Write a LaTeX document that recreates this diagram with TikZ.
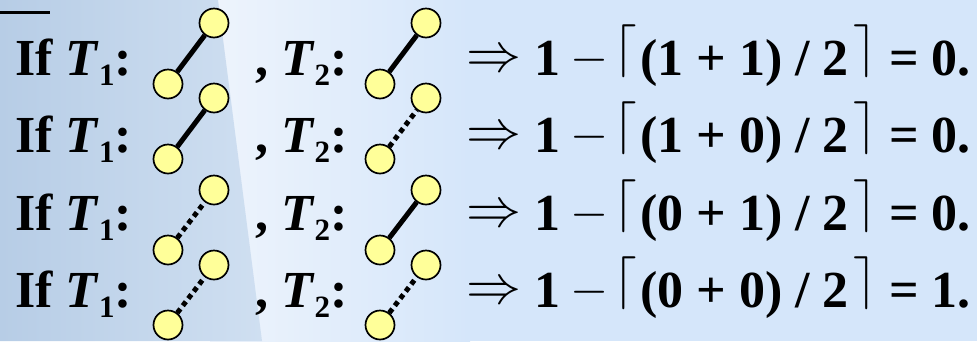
\RequirePackage{fix-cm}
\documentclass[tikz,border=0pt]{standalone}
\usepackage{fontspec}
\setmainfont{Liberation Serif}
\definecolor{bgblue}{HTML}{D5E6FA}
\definecolor{imgdark}{HTML}{B7CDE6}
\definecolor{imglight}{HTML}{CFDFF1}
\definecolor{glow}{HTML}{EEF4FC}
\definecolor{vertex}{HTML}{FFFF99}
\tikzset{
  bigtxt/.style={font=\fontsize{52}{52}\selectfont\bfseries, inner sep=0pt, anchor=base west},
  arrsym/.style={inner sep=0pt, font=\fontsize{55}{55}\selectfont},
  minsym/.style={inner sep=0pt, font=\fontsize{49}{49}\selectfont},
  lcsym/.style={inner sep=0pt, font=\fontsize{53}{53}\selectfont, anchor=north west},
  rcsym/.style={inner sep=0pt, font=\fontsize{53}{53}\selectfont, anchor=north east},
  vtx/.style={circle, draw=black, line width=1.7pt, fill=vertex, minimum size=29pt, inner sep=0pt},
  solidedge/.style={line width=5pt},
  dotedge/.style={line width=5pt, dash pattern=on 5pt off 4pt},
}
\newcommand{\sub}[1]{\raisebox{-10pt}{\fontsize{31}{31}\selectfont #1}}
\newcommand{\lc}{$\lceil$}
\newcommand{\rc}{$\rceil$}
\begin{document}
\begin{tikzpicture}[x=1pt,y=-1pt]
\useasboundingbox (0,0) rectangle (977,341);
\fill[bgblue] (0,0) rectangle (977,341);
\shade[left color=glow, right color=bgblue] (210,0) rectangle (470,341);
\shade[left color=imgdark, right color=imglight] (0,0) -- (218,0) -- (262,341) -- (0,341) -- cycle;
\draw[line width=3pt] (0,12) -- (50,12);
% row 1
\node[bigtxt] (ifA) at (15,75) {If \textit{T}\sub{1}:};
\node[bigtxt] (cmA) at (255,75) {, \textit{T}\sub{2}:};
\node[vtx] (alA) at (168,84) {};
\node[vtx] (auA) at (214,23) {};
\draw[solidedge] (alA) -- (auA);
\node[vtx] (blA) at (380,84) {};
\node[vtx] (buA) at (426,23) {};
\draw[solidedge] (blA) -- (buA);
\node[arrsym] (impA) at (494,61) {$\Rightarrow$};
\node[bigtxt] (oneA) at (534,75) {1};
\node[minsym] (minA) at (590,60) {$-$};
\node[lcsym] (lcA) at (613,25) {\lc};
\node[bigtxt] (frA) at (640,75) {(1 + 1) / 2};
\node[rcsym] (rcA) at (877,25) {\rc};
\node[bigtxt] (eqA) at (889,75) {= 0.};
% row 2
\node[bigtxt] (ifB) at (15,152) {If \textit{T}\sub{1}:};
\node[bigtxt] (cmB) at (255,152) {, \textit{T}\sub{2}:};
\node[vtx] (alB) at (168,159) {};
\node[vtx] (auB) at (214,98) {};
\draw[solidedge] (alB) -- (auB);
\node[vtx] (blB) at (380,159) {};
\node[vtx] (buB) at (426,98) {};
\draw[dotedge] (blB) -- (buB);
\node[arrsym] (impB) at (494,138) {$\Rightarrow$};
\node[bigtxt] (oneB) at (534,152) {1};
\node[minsym] (minB) at (590,137) {$-$};
\node[lcsym] (lcB) at (613,102) {\lc};
\node[bigtxt] (frB) at (640,152) {(1 + 0) / 2};
\node[rcsym] (rcB) at (877,102) {\rc};
\node[bigtxt] (eqB) at (889,152) {= 0.};
% row 3
\node[bigtxt] (ifC) at (15,230) {If \textit{T}\sub{1}:};
\node[bigtxt] (cmC) at (255,230) {, \textit{T}\sub{2}:};
\node[vtx] (alC) at (168,250) {};
\node[vtx] (auC) at (214,190) {};
\draw[dotedge] (alC) -- (auC);
\node[vtx] (blC) at (380,250) {};
\node[vtx] (buC) at (426,190) {};
\draw[solidedge] (blC) -- (buC);
\node[arrsym] (impC) at (494,216) {$\Rightarrow$};
\node[bigtxt] (oneC) at (534,230) {1};
\node[minsym] (minC) at (590,215) {$-$};
\node[lcsym] (lcC) at (613,180) {\lc};
\node[bigtxt] (frC) at (640,230) {(0 + 1) / 2};
\node[rcsym] (rcC) at (877,180) {\rc};
\node[bigtxt] (eqC) at (889,230) {= 0.};
% row 4
\node[bigtxt] (ifD) at (15,307) {If \textit{T}\sub{1}:};
\node[bigtxt] (cmD) at (255,307) {, \textit{T}\sub{2}:};
\node[vtx] (alD) at (168,325) {};
\node[vtx] (auD) at (214,265) {};
\draw[dotedge] (alD) -- (auD);
\node[vtx] (blD) at (380,325) {};
\node[vtx] (buD) at (426,265) {};
\draw[dotedge] (blD) -- (buD);
\node[arrsym] (impD) at (494,293) {$\Rightarrow$};
\node[bigtxt] (oneD) at (534,307) {1};
\node[minsym] (minD) at (590,292) {$-$};
\node[lcsym] (lcD) at (613,257) {\lc};
\node[bigtxt] (frD) at (640,307) {(0 + 0) / 2};
\node[rcsym] (rcD) at (877,257) {\rc};
\node[bigtxt] (eqD) at (889,307) {= 1.};
\end{tikzpicture}
\end{document}
